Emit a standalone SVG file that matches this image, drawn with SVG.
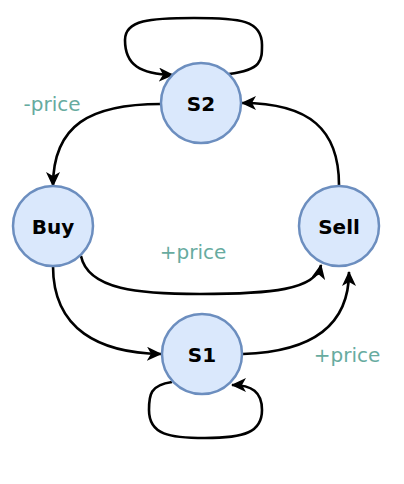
<svg xmlns="http://www.w3.org/2000/svg" width="404" height="484" viewBox="0 0 404 484">
<defs>
<marker id="arr" viewBox="0 0 15 14" markerWidth="15" markerHeight="14" refX="14" refY="7" orient="auto" markerUnits="userSpaceOnUse">
<path d="M0,0 L15,7 L0,14 L4,7 z" fill="#000"/>
</marker>
<style>
.node circle{fill:#dae8fc;stroke:#6c8ebf;stroke-width:2.5}
.node text{font-family:"DejaVu Sans",Verdana,sans-serif;font-weight:bold;font-size:20px;text-anchor:middle;fill:#000}
.edge{fill:none;stroke:#000;stroke-width:2.6;marker-end:url(#arr)}
.lbl{font-family:"DejaVu Sans",Verdana,sans-serif;font-size:20px;fill:#67ab9f;text-anchor:middle}
</style>
</defs>
<rect width="404" height="484" fill="#fff"/>
<g id="connectors">
<path class="edge" d="M229,74 C262,70 262,60 262,45 C262,20 240,18 194,18 C150,18 125,20 125,40 C125,65 140,74 173,75"/>
<path class="edge" d="M161,104 C90,104 53,125 53,186"/>
<path class="edge" d="M339,185 C339,130 310,103 242,103"/>
<path class="edge" d="M81,256 C88,290 140,294 200,294 C270,294 316,290 321,265"/>
<path class="edge" d="M53,266 C53,330 100,353 161,354"/>
<path class="edge" d="M243,354 C305,352 349,330 349,272"/>
<path class="edge" d="M172,382 C150,385 149,395 149,410 C149,435 170,438 205,438 C245,438 262,432 262,410 C262,392 252,385 232,385"/>
</g>
<g id="S2" class="node"><circle cx="201" cy="103" r="40"/><text x="201" y="111">S2</text></g>
<g id="Buy" class="node"><circle cx="53" cy="226" r="40"/><text x="53" y="234">Buy</text></g>
<g id="Sell" class="node"><circle cx="339" cy="226" r="40"/><text x="339" y="234">Sell</text></g>
<g id="S1" class="node"><circle cx="202" cy="354" r="40"/><text x="202" y="362">S1</text></g>
<g id="labels">
<text class="lbl" x="52" y="111">-price</text>
<text class="lbl" x="193" y="259">+price</text>
<text class="lbl" x="347" y="362">+price</text>
</g>
</svg>
